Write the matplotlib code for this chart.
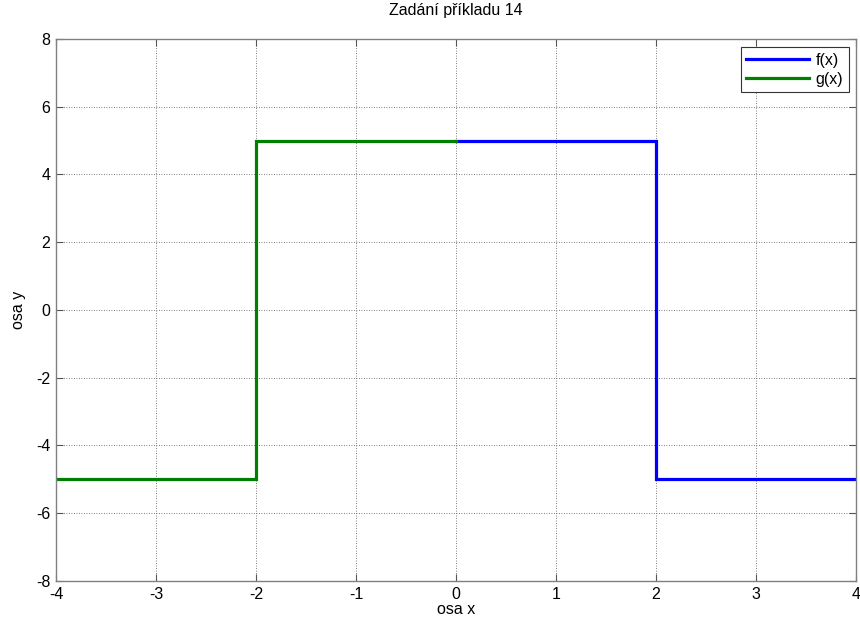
import matplotlib
matplotlib.use("Agg")
import matplotlib.pyplot as plt

plt.rcParams['font.family'] = ['Liberation Sans', 'DejaVu Sans']

# piecewise-constant functions (breakpoints and values)
f_x = [0, 2, 2, 4]
f_y = [5, 5, -5, -5]
g_x = [-4, -2, -2, 0]
g_y = [-5, -5, 5, 5]

x_ticks = [-4, -3, -2, -1, 0, 1, 2, 3, 4]
y_ticks = [-8, -6, -4, -2, 0, 2, 4, 6, 8]

fig = plt.figure(figsize=(8.6, 6.23), dpi=100)
ax = fig.add_axes([56/860, 1 - 581/623, 800/860, 542/623])

ax.plot(f_x, f_y, color='#0000ff', lw=2.3, label='f(x)', solid_joinstyle='miter')
ax.plot(g_x, g_y, color='#008000', lw=2.3, label='g(x)', solid_joinstyle='miter')

ax.set_xlim(-4, 4)
ax.set_ylim(-8, 8)
ax.set_xticks(x_ticks)
ax.set_yticks(y_ticks)
ax.set_xticklabels([str(v) for v in x_ticks])
ax.set_yticklabels([str(v) for v in y_ticks])

ax.grid(True, linestyle=(0, (1, 2)), color='#555555', linewidth=0.6)
ax.tick_params(direction='in', top=True, right=True, length=5, width=0.8,
               labelsize=11.5, colors='#555555', labelcolor='black', pad=4)
for s in ax.spines.values():
    s.set_color('#808080')
    s.set_linewidth(1.0)

ax.set_xlabel('osa x', fontsize=11.5, labelpad=0)
ax.set_ylabel('osa y', fontsize=11.5, labelpad=7)
ax.set_title('Zadání příkladu 14', fontsize=11.5, pad=17)

leg = ax.legend(loc='upper right', fontsize=11.5, frameon=True, fancybox=False,
                bbox_to_anchor=(849/800 - 56/800, 1 - 8/542), borderaxespad=0,
                handlelength=3.9, handletextpad=0.45,
                borderpad=0.35, labelspacing=0.25)
leg.get_frame().set_edgecolor('#333333')
leg.get_frame().set_linewidth(0.8)
leg.get_frame().set_alpha(1)

fig.savefig('out.png', dpi=100, facecolor='white')
